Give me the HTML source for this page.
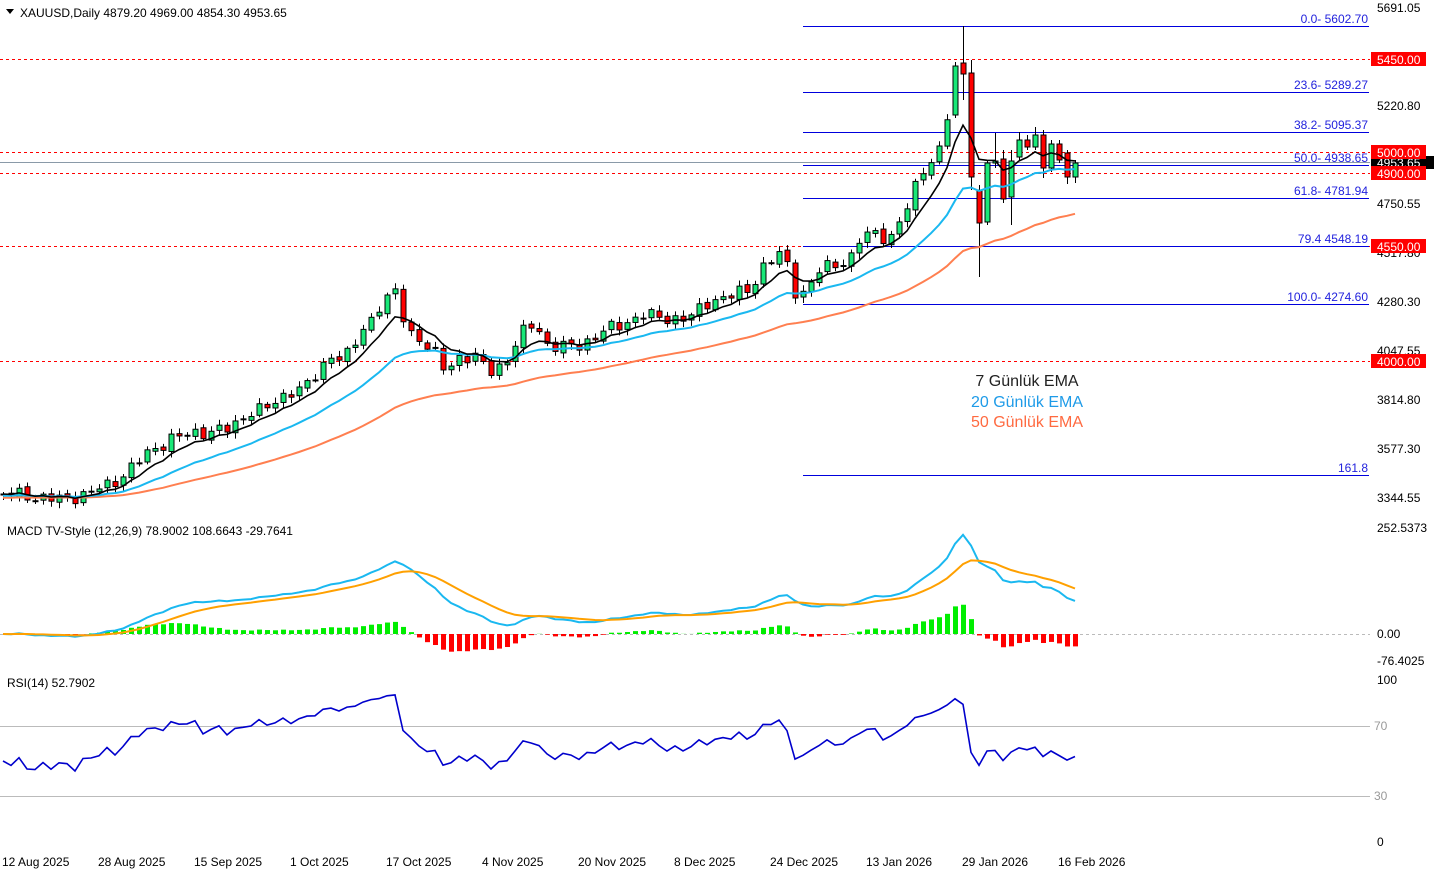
<!DOCTYPE html>
<html><head><meta charset="utf-8"><style>
html,body{margin:0;padding:0;background:#fff;width:1434px;height:874px;overflow:hidden}
svg{display:block;font-family:"Liberation Sans",sans-serif}
</style></head><body>
<svg id="s" width="1434" height="874" xmlns="http://www.w3.org/2000/svg"></svg>
<script>
const S=document.getElementById('s');let h='';
function ln(x1,y1,x2,y2,c,w,d){h+=`<line x1="${x1}" y1="${y1}" x2="${x2}" y2="${y2}" stroke="${c}" stroke-width="${w||1}" ${d?`stroke-dasharray="${d}"`:''}/>`}
function tx(x,y,t,c,sz,a){h+=`<text x="${x}" y="${y}" fill="${c||'#000'}" font-size="${sz||12}" ${a?`text-anchor="${a}"`:''}>${t}</text>`}
function pl(pts,c,w){h+=`<polyline fill="none" stroke="${c}" stroke-width="${w}" points="${pts.map(p=>p[0].toFixed(1)+','+p[1].toFixed(1)).join(' ')}"/>`}
[59,152,173,246,361].forEach(y=>ln(0,y+.5,1370,y+.5,'#ff0000',1,'3,3'));
ln(0,162.5,1370,162.5,'#8a9aa8',1);
[[26,'0.0- 5602.70'],[92,'23.6- 5289.27'],[132,'38.2- 5095.37'],[165,'50.0- 4938.65'],[198,'61.8- 4781.94'],[246,'79.4 4548.19'],[304,'100.0- 4274.60'],[475,'161.8']].forEach(a=>{ln(803,a[0]+.5,1369,a[0]+.5,'#0000dd',1);tx(1368,a[0]-3,a[1],'#2222dd',12,'end')});
ln(0,726.5,1370,726.5,'#bbb',1);ln(0,796.5,1370,796.5,'#bbb',1);
ln(0,634.5,1370,634.5,'#bbb',1,'3,3');
const K=[[3,494],[40,497],[60,500],[90,492],[110,485],[130,468],[150,452],[170,438],[190,435],[210,430],[230,430],[250,410],[270,408],[290,390],[310,385],[330,355],[350,355],[365,325],[375,315],[383,295],[390,300],[398,290],[405,330],[420,338],[435,355],[445,372],[460,355],[475,358],[490,372],[505,362],[515,345],[525,330],[535,322],[545,343],[560,348],[580,345],[600,333],[620,325],[640,315],[660,318],[690,318],[710,300],[730,296],[750,290],[760,268],[775,258],[785,250],[790,290],[805,292],[820,270],[840,262],[855,255],[860,238],[875,233],[890,238],[900,222],[910,202],[920,172],[930,160],[940,150],[947,118]];
function itp(x){for(let i=0;i<K.length-1;i++){if(x<=K[i+1][0]){const t=(x-K[i][0])/(K[i+1][0]-K[i][0]);return K[i][1]+t*(K[i+1][1]-K[i][1])}}return K[K.length-1][1]}
const E=[[955,115,66,62,118],[963,63,74,26,100],[971,73,177,60,190],[979,190,223,185,277],[987,222,163,160,225],[995,163,161,133,168],[1003,159,199,150,203],[1011,197,161,150,225],[1019,157,140,132,160],[1027,140,147,135,150],[1035,147,135,127,150],[1043,135,168,130,178],[1051,168,144,140,172],[1059,144,160,140,163],[1067,153,177,150,184],[1075,177,163,160,183]];
const B=[];let prev=494;
for(let i=0;i<=118;i++){const x=3+8*i;let c=itp(x)+5*Math.sin(i*2.3)+3*Math.sin(i*5.1);const o=prev+1.5*Math.sin(i*3.7);const hi=Math.min(o,c)-2-4*Math.abs(Math.sin(i*1.9));const lo=Math.max(o,c)+2+4*Math.abs(Math.cos(i*2.7));B.push([x,o,c,hi,lo]);prev=c}
E.forEach(e=>B.push(e));
const P=y=>5691.05-(y-8)/0.20882;
function ema(arr,n,seed){const k=2/(n+1);let e=seed!==undefined?seed:arr[0];return arr.map(v=>e=v*k+e*(1-k))}
const cy=B.map(b=>b[2]);
const e7=ema(cy,7),e20=ema(cy,20,496),e50=ema(cy,50,498);
B.forEach(b=>{const[x,o,c,hi,lo]=b;ln(x+.5,hi,x+.5,lo,'#000',1);const t=Math.min(o,c),hh=Math.max(Math.abs(o-c),1);h+=`<rect x="${x-2}" y="${t}" width="5" height="${hh}" fill="${c<o?'#19e878':'#f00'}" stroke="#000" stroke-width="1"/>`});
pl(B.map((b,i)=>[b[0],e50[i]]),'#ff7f50',2);
pl(B.map((b,i)=>[b[0],e20[i]]),'#1ab8f0',2);
pl(B.map((b,i)=>[b[0],e7[i]]),'#000',1.6);
const cp=cy.map(P);const f=ema(cp,12),s=ema(cp,26);const m=f.map((v,i)=>v-s[i]);const sg=ema(m,9);
const My=v=>634-v*0.42;
m.forEach((v,i)=>{const d=v-sg[i];const y=My(d);h+=`<rect x="${B[i][0]-2}" y="${Math.min(y,634)}" width="5" height="${Math.abs(y-634)}" fill="${d>=0?'#00ee00':'#f00'}"/>`});
pl(B.map((b,i)=>[b[0],My(m[i])]),'#1ab8f0',2);
pl(B.map((b,i)=>[b[0],My(sg[i])]),'#ffa000',2);
let ag=14,al=15;const r=[50];for(let i=1;i<cp.length;i++){const d=cp[i]-cp[i-1];const g=Math.max(d,0),l=Math.max(-d,0);ag=(ag*13+g)/14;al=(al*13+l)/14;r.push(100-100/(1+ag/(al||1e-9)))}
pl(B.map((b,i)=>[b[0],842-r[i]*1.62]),'#0000cc',1.6);
[[8,'5691.05'],[106,'5220.80'],[204,'4750.55'],[253,'4517.80'],[302,'4280.30'],[351,'4047.55'],[400,'3814.80'],[449,'3577.30'],[498,'3344.55'],[528,'252.5373'],[634,'0.00'],[661,'-76.4025'],[680,'100'],[842,'0']].forEach(a=>tx(1377,a[0]+4,a[1],'#000',12));
h+=`<rect x="1371" y="156" width="63" height="13" fill="#000"/>`;tx(1377,167,'4953.65','#fff',12);
[[59,'5450.00'],[152,'5000.00'],[173,'4900.00'],[246,'4550.00'],[361,'4000.00']].forEach(a=>{h+=`<rect x="1371" y="${a[0]-7}" width="55" height="14" fill="#f00"/>`;tx(1377,a[0]+5,a[1],'#fff',12)});
tx(1374,730,'70','#999',12);tx(1374,800,'30','#999',12);
h+=`<path d="M6 9 L14 9 L10 14 Z" fill="#000"/>`;
tx(20,17,'XAUUSD,Daily  4879.20 4969.00 4854.30 4953.65','#000',12);
tx(7,535,'MACD TV-Style (12,26,9) 78.9002 108.6643 -29.7641','#000',12);
tx(7,687,'RSI(14) 52.7902','#000',12);
tx(1027,386,'7 Günlük EMA','#222',16,'middle');
tx(1027,407,'20 Günlük EMA','#1e9be8',16,'middle');
tx(1027,427,'50 Günlük EMA','#ff6a40',16,'middle');
['12 Aug 2025','28 Aug 2025','15 Sep 2025','1 Oct 2025','17 Oct 2025','4 Nov 2025','20 Nov 2025','8 Dec 2025','24 Dec 2025','13 Jan 2026','29 Jan 2026','16 Feb 2026'].forEach((t,i)=>tx(2+i*96,866,t,'#000',12));
S.innerHTML=h;
</script>
</body></html>
